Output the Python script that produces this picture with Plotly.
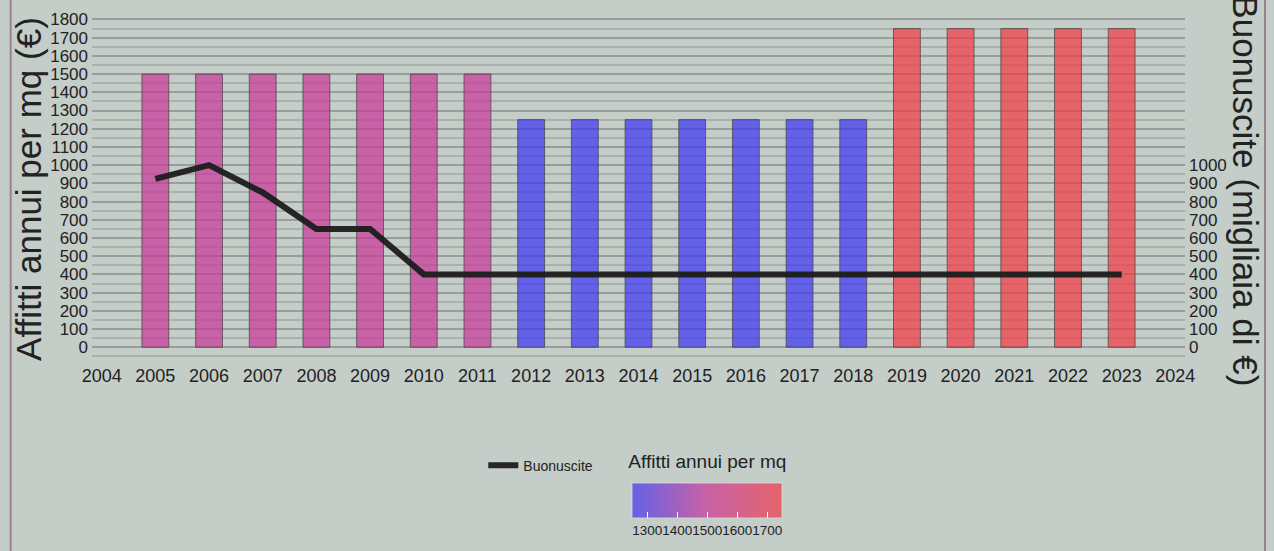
import plotly.graph_objects as go

# ---- data ----
years = list(range(2005, 2024))
affitti = [1500] * 7 + [1250] * 7 + [1750] * 5          # Affitti annui per mq (€)
buonuscite = [925, 1000, 850, 650, 650, 400, 400, 400, 400, 400,
              400, 400, 400, 400, 400, 400, 400, 400, 400]  # migliaia di €
x_ticks = list(range(2004, 2025))
y_left_ticks = list(range(0, 1801, 100))
y_right_ticks = list(range(0, 1001, 100))
cbar_ticks = [1300, 1400, 1500, 1600, 1700]

BG = "#c4cdc8"
FONT = "Liberation Sans, Arial, sans-serif"

colorscale = [
    [0.0, "rgba(59,51,243,0.70)"],
    [0.5, "rgba(202,52,151,0.70)"],
    [1.0, "rgba(243,55,66,0.70)"],
]

fig = go.Figure()

fig.add_trace(go.Bar(
    x=years, y=affitti, width=0.5, name="Affitti annui per mq",
    showlegend=False,
    marker=dict(
        color=affitti, colorscale=colorscale, cmin=1250, cmax=1750,
        line=dict(color="rgba(70,70,70,0.75)", width=1),
        colorbar=dict(
            orientation="h",
            title=dict(text="Affitti annui per mq", side="top",
                       font=dict(size=19, family=FONT, color="#222")),
            x=0.563, xanchor="center",
            y=-0.295, yanchor="top",
            len=150, lenmode="pixels",
            thickness=35, thicknessmode="pixels",
            tickvals=cbar_ticks, tickangle=0,
            ticks="inside", ticklen=6, tickcolor="white", tickwidth=1,
            tickfont=dict(size=13.5, family=FONT, color="#222"),
            outlinewidth=1, outlinecolor="rgba(220,220,220,0.8)",
            bgcolor="rgba(0,0,0,0)",
            xpad=0, ypad=0,
        ),
    ),
))

fig.add_trace(go.Scatter(
    x=years, y=buonuscite, yaxis="y2", mode="lines", name="Buonuscite",
    line=dict(color="rgba(28,28,28,0.95)", width=6),
))

yr = [-70, 1830]

fig.update_layout(
    width=1274, height=551,
    margin=dict(l=92, r=89, t=14, b=191, autoexpand=False),
    paper_bgcolor=BG, plot_bgcolor=BG,
    font=dict(family=FONT, color="#222"),
    showlegend=True,
    legend=dict(x=0.358, xanchor="left", y=-0.305, yanchor="middle",
                bgcolor="rgba(0,0,0,0)", font=dict(size=14, family=FONT, color="#222")),
    xaxis=dict(
        range=[2003.82, 2024.18], tickvals=x_ticks, showgrid=False,
        zeroline=False, showline=False, ticks="", ticklabelstandoff=3,
        tickfont=dict(size=18, family=FONT, color="#222"),
    ),
    yaxis=dict(
        range=yr, tickvals=y_left_ticks, showgrid=True,
        gridcolor="#999d9b", gridwidth=2, zeroline=False, showline=False,
        minor=dict(dtick=50, tick0=0, showgrid=True, gridcolor="#aab1ad", gridwidth=2),
        ticklabelstandoff=3,
        tickfont=dict(size=17, family=FONT, color="#222"),
    ),
    yaxis2=dict(
        range=yr, overlaying="y", side="right", tickvals=y_right_ticks,
        showgrid=False, zeroline=False, showline=False, ticklabelstandoff=3,
        tickfont=dict(size=17, family=FONT, color="#222"),
    ),
    annotations=[
        dict(
            text="Affitti annui per mq (€)", textangle=-90,
            xref="paper", yref="paper", x=-0.0575, y=0.495,
            xanchor="center", yanchor="middle", showarrow=False,
            font=dict(size=35, family=FONT, color="#222"),
        ),
        dict(
            text="Buonuscite (migliaia di €)", textangle=90,
            xref="paper", yref="paper", x=1.055, y=0.49,
            xanchor="center", yanchor="middle", showarrow=False,
            font=dict(size=35, family=FONT, color="#222"),
        ),
    ],
    shapes=[dict(
        type="rect", xref="paper", yref="paper",
        x0=-0.0744, x1=1.0732, y0=-0.6, y1=1.1,
        line=dict(color="#9e8090", width=2), fillcolor="rgba(0,0,0,0)", layer="below",
    )],
)

fig.write_html(
    "out.html",
    config={"displayModeBar": False},
    post_script="document.body.style.margin='0';document.body.style.padding='0';"
                "document.body.style.background='" + BG + "';",
)
